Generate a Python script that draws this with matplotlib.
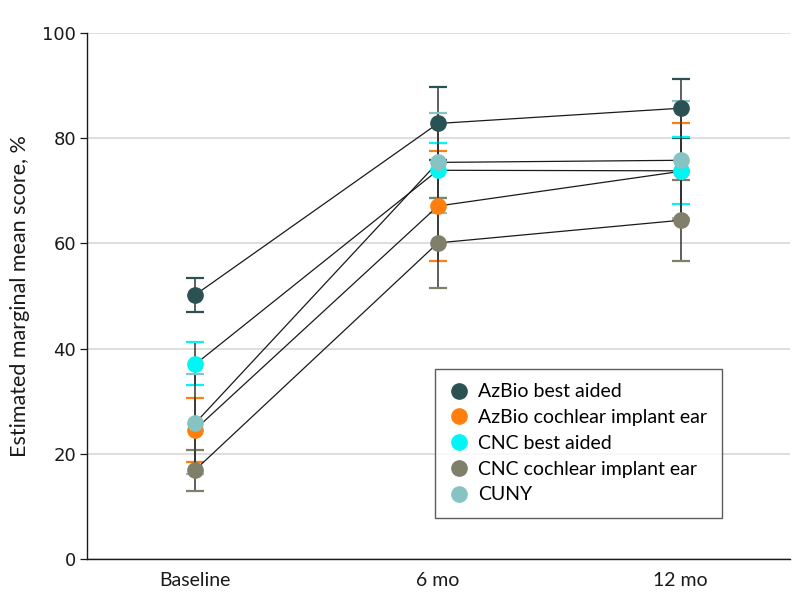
import matplotlib
matplotlib.use("Agg")
import matplotlib.pyplot as plt
import numpy as np

plt.rcParams['font.family'] = ['Lato', 'DejaVu Sans']

timepoints = ["Baseline", "6 mo", "12 mo"]
series_names = ["AzBio best aided", "AzBio cochlear implant ear", "CNC best aided",
                "CNC cochlear implant ear", "CUNY"]
colors = ["#2b5252", "#ff7f0e", "#00f5f5", "#807f6a", "#86c3c3"]

azbio_best = [50.2, 82.8, 85.7]
azbio_best_lo = [47.0, 75.8, 80.0]
azbio_best_hi = [53.5, 89.8, 91.2]

azbio_ci = [24.6, 67.1, 73.7]
azbio_ci_lo = [18.4, 56.7, 64.5]
azbio_ci_hi = [30.7, 77.6, 82.8]

cnc_best = [37.0, 73.9, 73.8]
cnc_best_lo = [33.1, 68.6, 67.5]
cnc_best_hi = [41.3, 79.0, 80.2]

cnc_ci = [16.9, 60.1, 64.4]
cnc_ci_lo = [12.9, 51.6, 56.7]
cnc_ci_hi = [20.7, 68.7, 72.0]

cuny = [25.8, 75.4, 75.8]
cuny_lo = [16.2, 65.8, 64.8]
cuny_hi = [35.1, 84.7, 87.0]

means = [azbio_best, azbio_ci, cnc_best, cnc_ci, cuny]
los = [azbio_best_lo, azbio_ci_lo, cnc_best_lo, cnc_ci_lo, cuny_lo]
his = [azbio_best_hi, azbio_ci_hi, cnc_best_hi, cnc_ci_hi, cuny_hi]

fig = plt.figure(figsize=(7.94, 6.09), dpi=100)
ax = fig.add_axes([87/794, 1-559/609, (790-87)/794, (559-33)/609])

x = np.arange(len(timepoints))

# error bars first
for m, lo, hi, c in zip(means, los, his, colors):
    m = np.array(m); lo = np.array(lo); hi = np.array(hi)
    eb = ax.errorbar(x, m, yerr=[m - lo, hi - m], fmt='none', ecolor='#333333',
                     elinewidth=1.1, capsize=6.5, capthick=1.6, zorder=2)
    for cap in eb[1]:
        cap.set_color(c)
        cap.set_markeredgecolor(c)
        cap.set_markerfacecolor(c)

# connecting lines
for m in means:
    ax.plot(x, m, color='#1a1a1a', lw=0.9, zorder=3)

# markers
for m, c, name in zip(means, colors, series_names):
    ax.plot(x, m, linestyle='none', marker='o', ms=11, color=c, mec=c, zorder=4, label=name)

ax.set_xlim(-0.445, 2.45)
ax.set_ylim(0, 100)
ax.set_yticks([0, 20, 40, 60, 80, 100])
ax.set_xticks(x)
ax.set_xticklabels(timepoints, fontsize=14)
ax.tick_params(axis='x', length=0, pad=9, colors='#1a1a1a')
ax.tick_params(axis='y', length=5, width=0.9, pad=3, colors='#1a1a1a')
for lbl in ax.get_yticklabels():
    lbl.set_fontfamily('DejaVu Sans')
    lbl.set_fontsize(13)
ax.yaxis.grid(True, color='#d8d8d8', lw=1.2)
ax.set_axisbelow(True)
for s in ['top', 'right']:
    ax.spines[s].set_visible(False)
for s in ['left', 'bottom']:
    ax.spines[s].set_linewidth(1.0)
    ax.spines[s].set_color('#1a1a1a')
ax.set_ylabel("Estimated marginal mean score, %", fontsize=15.5, labelpad=9, color='#1a1a1a')

leg = ax.legend(loc='lower right', bbox_to_anchor=((722-87)/703, (559-518)/526),
                borderaxespad=0, frameon=True, fancybox=False, fontsize=14,
                handletextpad=0.5, labelspacing=0.45, handlelength=1.0,
                borderpad=0.75, markerscale=1.0)
leg.get_frame().set_edgecolor('#333333')
leg.get_frame().set_linewidth(1.0)

fig.savefig("out.png", dpi=100)
